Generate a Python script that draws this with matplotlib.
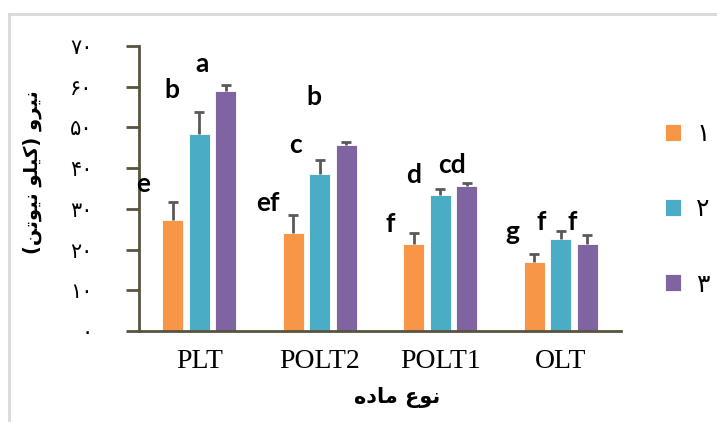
import matplotlib
matplotlib.use("Agg")
import matplotlib.pyplot as plt
from matplotlib.lines import Line2D
import numpy as np

# ---------------- data ----------------
categories = ["PLT", "POLT2", "POLT1", "OLT"]
series_names = ["\u06f1", "\u06f2", "\u06f3"]          # ۱ ۲ ۳
s1 = [27.3, 24.0, 21.4, 17.0]
s2 = [48.3, 38.5, 33.4, 22.7]
s3 = [59.0, 45.7, 35.6, 21.4]
e1 = [4.3, 4.6, 2.7, 2.0]
e2 = [5.5, 3.6, 1.5, 1.9]
e3 = [1.5, 0.8, 0.7, 2.1]
letters = ["e", "b", "a", "ef", "c", "b", "f", "d", "cd", "g", "f", "f"]
y_ticks = [0, 10, 20, 30, 40, 50, 60, 70]
y_tick_labels = ["\u06f0", "\u06f1\u06f0", "\u06f2\u06f0", "\u06f3\u06f0",
                 "\u06f4\u06f0", "\u06f5\u06f0", "\u06f6\u06f0", "\u06f7\u06f0"]

# y label "نیرو (کیلو نیوتن)" in visual order with presentation forms
w_niro = "\uFEED\uFEAE\uFBFF\uFEE7"
w_kilo = "\uFEEE\uFEE0\uFBFF\uFB90"
w_newton = "\uFEE6\uFE97\uFEEE\uFBFF\uFEE7"
y_label = "(" + w_newton + " " + w_kilo + ") " + w_niro
# x label "نوع ماده"
x_label = "\uFEE9\uFEA9\uFE8E\uFEE3" + " " + "\uFEC9\uFEEE\uFEE7"

# ---------------- layout / style ----------------
colors = ["#F79646", "#4BACC6", "#8064A2"]
offsets = [-0.22, 0.0, 0.22]
bar_w = 0.178
letter_pos = [(-0.464, 34.2), (-0.226, 57.2), (0.020, 63.7),
              (0.571, 29.5), (0.795, 43.6), (0.950, 55.5),
              (1.583, 24.4), (1.782, 36.3), (2.095, 38.7),
              (2.595, 22.4), (2.836, 24.8), (3.099, 24.8)]

fig = plt.figure(figsize=(7.17, 4.22), dpi=100)
ax = fig.add_axes([139/717, 1-331/422, (621-139)/717, (331-46)/422])

x = np.arange(len(categories))
handles = []
for vals, errs, col, off, name in zip([s1, s2, s3], [e1, e2, e3], colors, offsets, series_names):
    b = ax.bar(x + off, vals, width=bar_w, color=col, edgecolor="white", linewidth=0.6,
               label=name, zorder=2)
    eb = ax.errorbar(x + off, vals, yerr=[np.zeros(len(vals)), errs], fmt="none",
                     ecolor="#595959", elinewidth=2, capsize=3.5, capthick=2, zorder=3)
    caps = eb[1]
    if len(caps) > 1:
        caps[0].set_visible(False)   # hide the lower (zero-length) cap
    handles.append(b)

for lab, (lx, ly) in zip(letters, letter_pos):
    t = ax.text(lx, ly, lab, ha="center", va="baseline", fontsize=19,
                fontweight="bold", family="Lato", color="black", zorder=6)
    t.set_clip_on(False)

ax.set_xlim(-0.5, 3.5)
ax.set_ylim(0, 70)
ax.set_xticks(x)
ax.set_xticklabels(categories, family="Liberation Serif", fontsize=20)
ax.set_yticks(y_ticks)
ax.set_yticklabels(y_tick_labels, family="DejaVu Sans", fontsize=15)
ax.tick_params(axis="x", length=0, pad=13)
ax.tick_params(axis="y", length=9.5, width=2, color="#595340", pad=24, direction="out")

for s in ["top", "right"]:
    ax.spines[s].set_visible(False)
for s in ["left", "bottom"]:
    ax.spines[s].set_color("#595340")
    ax.spines[s].set_linewidth(2)
    ax.spines[s].set_zorder(5)

fig.text(32/717, 1-172/422, y_label, rotation=90, ha="center", va="center",
         fontsize=14, fontweight="bold", family="DejaVu Sans")
fig.text(397/717, 1-397/422, x_label, ha="center", va="center",
         fontsize=15, fontweight="bold", family="DejaVu Sans")

fig.legend(handles=handles, labels=series_names, loc="upper left",
           bbox_to_anchor=(665/717, 1-122/422), frameon=False,
           handlelength=0.65, handleheight=0.65, handletextpad=0.6,
           labelspacing=2.05, fontsize=18, borderaxespad=0, borderpad=0)

# light frame lines
fig.add_artist(Line2D([9/717, 9/717], [0, 1-14/422], transform=fig.transFigure,
                      color="#d9d9d9", lw=2))
fig.add_artist(Line2D([9/717, 1], [1-14/422, 1-14/422], transform=fig.transFigure,
                      color="#d9d9d9", lw=2))

fig.savefig("out.png", dpi=100)
